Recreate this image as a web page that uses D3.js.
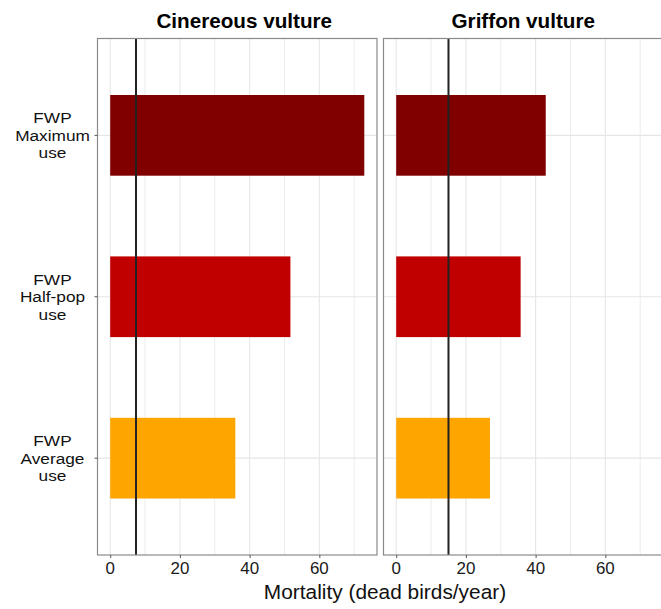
<!DOCTYPE html>
<html>
<head>
<meta charset="utf-8">
<script src="https://cdn.jsdelivr.net/npm/d3@7"></script>
<style>
  html, body { margin: 0; padding: 0; background: #fff; }
  svg { display: block; font-family: "Liberation Sans", Arial, sans-serif; }
</style>
</head>
<body>
<svg id="chart" width="661" height="609"></svg>
<script>
// Scenario rows, top to bottom
const scenarios = ["FWP\nMaximum\nuse", "FWP\nHalf-pop\nuse", "FWP\nAverage\nuse"];
const scenarioColors = ["#800000", "#c00000", "#ffa500"];

// Facets (species) and their modelled mortality per scenario
const species = ["Cinereous vulture", "Griffon vulture"];
const cinereousMortality = [72.9, 51.7, 35.9];
const griffonMortality = [42.9, 35.7, 26.9];
// Reference mortality threshold per species (vertical line)
const thresholds = [7.4, 15.0];

const xTicks = [0, 20, 40, 60];
const xMinorTicks = [10, 30, 50, 70];
const xTitle = "Mortality (dead birds/year)";

const seriesBySpecies = [cinereousMortality, griffonMortality];

const svg = d3.select("#chart");

// Layout
const panelTop = 38.5, panelBottom = 555;
const panelW = 279.5;
const panelX = [97.5, 383.5];

// Scales (shared across facets)
const maxVal = d3.max(seriesBySpecies.flat());
const pad = maxVal * 0.05;
const x = d3.scaleLinear().domain([-pad, maxVal + pad]).range([0, panelW]);
const y = d3.scaleBand().domain(scenarios).range([panelTop, panelBottom])
  .paddingInner(0.5).paddingOuter(0.35);

// Text with a slight horizontal widening
function stretchedText(parent, tx, ty, str, opts) {
  const g = parent.append("g")
    .attr("transform", `translate(${tx},${ty}) scale(${opts.sx || 1},1)`);
  g.append("text")
    .attr("x", 0).attr("y", 0)
    .attr("text-anchor", opts.anchor || "middle")
    .attr("font-size", opts.size)
    .attr("font-weight", opts.weight || "normal")
    .attr("fill", opts.fill || "#111")
    .text(str);
  return g;
}

species.forEach((sp, i) => {
  const values = seriesBySpecies[i];
  const g = svg.append("g").attr("transform", `translate(${panelX[i]},0)`);

  // Minor + major vertical grid
  g.selectAll("line.vminor").data(xMinorTicks).join("line")
    .attr("x1", d => x(d)).attr("x2", d => x(d))
    .attr("y1", panelTop).attr("y2", panelBottom)
    .attr("stroke", "#ececec").attr("stroke-width", 1);
  g.selectAll("line.vmajor").data(xTicks).join("line")
    .attr("x1", d => x(d)).attr("x2", d => x(d))
    .attr("y1", panelTop).attr("y2", panelBottom)
    .attr("stroke", "#e6e6e6").attr("stroke-width", 1.1);
  // Horizontal grid at categories
  g.selectAll("line.hmajor").data(scenarios).join("line")
    .attr("x1", 0).attr("x2", panelW)
    .attr("y1", d => y(d) + y.bandwidth() / 2).attr("y2", d => y(d) + y.bandwidth() / 2)
    .attr("stroke", "#e6e6e6").attr("stroke-width", 1.1);

  // Bars
  g.selectAll("rect.bar").data(scenarios).join("rect")
    .attr("x", x(0))
    .attr("y", d => y(d))
    .attr("width", (d, j) => x(values[j]) - x(0))
    .attr("height", y.bandwidth())
    .attr("fill", (d, j) => scenarioColors[j]);

  // Threshold line
  g.append("line")
    .attr("x1", x(thresholds[i])).attr("x2", x(thresholds[i]))
    .attr("y1", panelTop).attr("y2", panelBottom)
    .attr("stroke", "#222").attr("stroke-width", 2);

  // Panel border
  g.append("rect")
    .attr("x", 0).attr("y", panelTop)
    .attr("width", panelW).attr("height", panelBottom - panelTop)
    .attr("fill", "none").attr("stroke", "#8a8a8a").attr("stroke-width", 1.2);

  // Strip title
  stretchedText(g, panelW / 2 + (i === 0 ? 7 : 0), 27.5, sp, { size: 19.5, weight: "bold", sx: 1.06, fill: "#000" });

  // X axis ticks and labels
  const xAxis = g.append("g").attr("transform", `translate(0,${panelBottom})`);
  xAxis.call(d3.axisBottom(x).tickValues(xTicks).tickSize(3).tickFormat(""));
  xAxis.select(".domain").remove();
  xAxis.selectAll(".tick line").attr("stroke", "#555");
  xTicks.forEach(t => {
    stretchedText(g, x(t), 574, String(t), { size: 16, sx: 1.06, fill: "#1a1a1a" });
  });
});

// Y axis (left panel only): three-line category labels
const yAxis = svg.append("g").attr("transform", `translate(${panelX[0]},0)`);
yAxis.call(d3.axisLeft(y).tickSize(3).tickFormat(""));
yAxis.select(".domain").remove();
yAxis.selectAll(".tick line").attr("stroke", "#555");
const lineGap = 17.4;
scenarios.forEach(s => {
  const cy = y(s) + y.bandwidth() / 2;
  const lines = s.split("\n");
  const firstBase = cy - ((lines.length - 1) / 2) * lineGap + 5.4;
  const g = svg.append("g")
    .attr("transform", `translate(52.5,${firstBase}) scale(1.15,1)`);
  const t = g.append("text")
    .attr("text-anchor", "middle")
    .attr("font-size", 15)
    .attr("fill", "#111");
  lines.forEach((ln, k) => {
    t.append("tspan").attr("x", 0).attr("y", k * lineGap).text(ln);
  });
});

// X axis title
stretchedText(svg, 385, 598.5, xTitle, { size: 19.5, sx: 1.07, fill: "#111" });
</script>
</body>
</html>
